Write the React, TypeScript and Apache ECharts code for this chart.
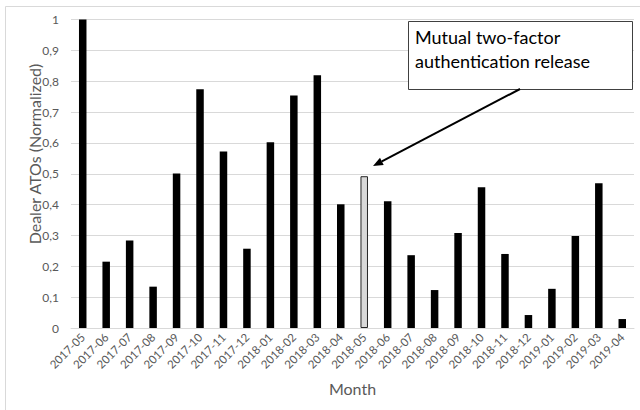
import React, { useEffect, useRef } from "react";
import * as echarts from "echarts";

const months = [
  "2017-05", "2017-06", "2017-07", "2017-08", "2017-09", "2017-10",
  "2017-11", "2017-12", "2018-01", "2018-02", "2018-03", "2018-04",
  "2018-05", "2018-06", "2018-07", "2018-08", "2018-09", "2018-10",
  "2018-11", "2018-12", "2019-01", "2019-02", "2019-03", "2019-04",
];

const dealerAtos = [
  1.0, 0.215, 0.284, 0.134, 0.501, 0.774,
  0.572, 0.257, 0.602, 0.754, 0.819, 0.401,
  0.492, 0.411, 0.236, 0.123, 0.308, 0.456,
  0.24, 0.042, 0.127, 0.298, 0.469, 0.029,
];

const releaseMonth = "2018-05";
const calloutLines = ["Mutual two-factor", "authentication release"];
const yTitle = "Dealer ATOs (Normalized)";

const FONT = "Lato, 'Open Sans', sans-serif";
const GRAY_TEXT = "#595959";

export default function App() {
  const ref = useRef<HTMLDivElement>(null);

  useEffect(() => {
    document.body.style.margin = "0";
    const chart = echarts.init(ref.current!, null, { renderer: "svg" });

    const data = dealerAtos.map((v, i) =>
      months[i] === releaseMonth
        ? { value: v, itemStyle: { color: "#d9d9d9", borderColor: "#262626", borderWidth: 1 } }
        : v
    );

    // arrow from the callout box toward the highlighted bar
    const from = [520, 89];
    const to = [373, 166];
    const dx = to[0] - from[0];
    const dy = to[1] - from[1];
    const len = Math.hypot(dx, dy);
    const ux = dx / len;
    const uy = dy / len;
    const headLen = 10;
    const headHalf = 4;
    const bx = to[0] - ux * headLen;
    const by = to[1] - uy * headLen;
    const px = -uy * headHalf;
    const py = ux * headHalf;

    chart.setOption({
      animation: false,
      textStyle: { fontFamily: FONT },
      grid: { left: 71, right: 6, top: 19.5, bottom: 82, containLabel: false },
      xAxis: {
        type: "category",
        data: months,
        name: "Month",
        nameLocation: "middle",
        nameGap: 52,
        nameTextStyle: { color: GRAY_TEXT, fontSize: 16, fontFamily: FONT },
        axisLine: { lineStyle: { color: "#d9d9d9" } },
        axisTick: { show: false },
        axisLabel: {
          interval: 0,
          rotate: 45,
          color: GRAY_TEXT,
          fontSize: 11.5,
          margin: 7,
          fontFamily: FONT,
        },
      },
      yAxis: {
        type: "value",
        min: 0,
        max: 1,
        interval: 0.1,
        axisLine: { show: false },
        axisTick: { show: false },
        axisLabel: {
          color: GRAY_TEXT,
          fontSize: 12,
          margin: 12,
          fontFamily: FONT,
          formatter: (v: number) => String(Math.round(v * 10) / 10).replace(".", ","),
        },
        splitLine: { lineStyle: { color: "#d9d9d9", width: 1 } },
      },
      series: [
        {
          type: "bar",
          data,
          barWidth: 7.5,
          itemStyle: { color: "#000000" },
        },
      ],
      graphic: [
        {
          type: "rect",
          shape: { x: 5.5, y: 6.5, width: 700, height: 500 },
          style: { fill: "none", stroke: "#d9d9d9", lineWidth: 1 },
          silent: true,
        },
        {
          type: "text",
          x: 34,
          y: 154,
          rotation: Math.PI / 2,
          style: {
            text: yTitle,
            fontSize: 16,
            fontFamily: FONT,
            fill: GRAY_TEXT,
            align: "center",
            verticalAlign: "middle",
          },
        },
        {
          type: "rect",
          shape: { x: 408.5, y: 21.5, width: 224, height: 68 },
          style: { fill: "#ffffff", stroke: "#404040", lineWidth: 1 },
          z: 10,
        },
        {
          type: "text",
          x: 415,
          y: 25,
          z: 11,
          style: {
            text: calloutLines.join("\n"),
            fontSize: 18,
            lineHeight: 24,
            fontFamily: FONT,
            fill: "#000000",
          },
        },
        {
          type: "line",
          z: 11,
          shape: { x1: from[0], y1: from[1], x2: bx, y2: by },
          style: { stroke: "#000000", lineWidth: 2 },
        },
        {
          type: "polygon",
          z: 11,
          shape: {
            points: [
              [to[0], to[1]],
              [bx + px, by + py],
              [bx - px, by - py],
            ],
          },
          style: { fill: "#000000" },
        },
      ],
    });

    return () => chart.dispose();
  }, []);

  return <div ref={ref} style={{ width: 640, height: 410 }} />;
}
